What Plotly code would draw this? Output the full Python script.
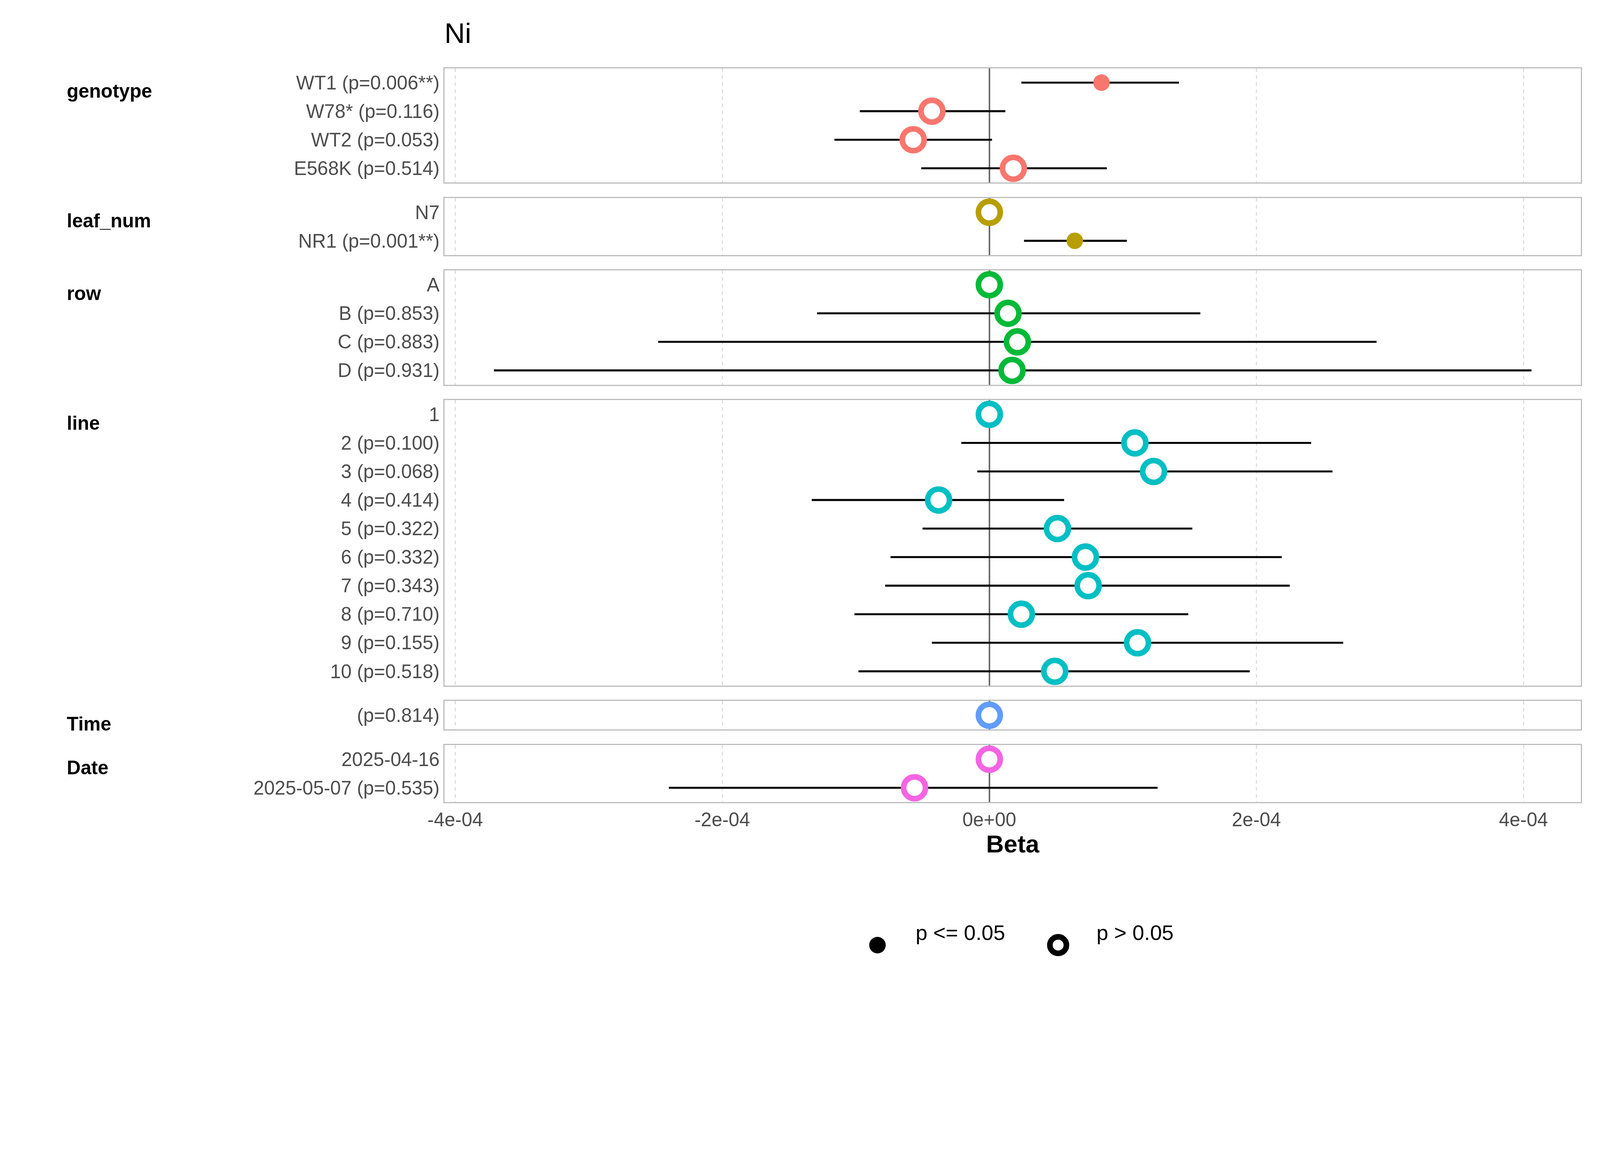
import plotly.graph_objects as go
from plotly.subplots import make_subplots

# estimates in units of 1e-4
groups = ["genotype", "leaf_num", "row", "line", "Time", "Date"]
colors = ["#F8766D", "#B79F00", "#00BA38", "#00BFC4", "#619CFF", "#F564E3"]

labels = [
    ["WT1 (p=0.006**)", "W78* (p=0.116)", "WT2 (p=0.053)", "E568K (p=0.514)"],
    ["N7", "NR1 (p=0.001**)"],
    ["A", "B (p=0.853)", "C (p=0.883)", "D (p=0.931)"],
    ["1", "2 (p=0.100)", "3 (p=0.068)", "4 (p=0.414)", "5 (p=0.322)", "6 (p=0.332)",
     "7 (p=0.343)", "8 (p=0.710)", "9 (p=0.155)", "10 (p=0.518)"],
    ["(p=0.814)"],
    ["2025-04-16", "2025-05-07 (p=0.535)"],
]
beta = [
    [0.84, -0.43, -0.57, 0.18],
    [0.0, 0.64],
    [0.0, 0.14, 0.21, 0.17],
    [0.0, 1.09, 1.23, -0.38, 0.51, 0.72, 0.74, 0.24, 1.11, 0.49],
    [0.0],
    [0.0, -0.56],
]
lower = [
    [0.24, -0.97, -1.16, -0.51],
    [0.0, 0.26],
    [0.0, -1.29, -2.48, -3.71],
    [0.0, -0.21, -0.09, -1.33, -0.50, -0.74, -0.78, -1.01, -0.43, -0.98],
    [0.0],
    [0.0, -2.40],
]
upper = [
    [1.42, 0.12, 0.02, 0.88],
    [0.0, 1.03],
    [0.0, 1.58, 2.90, 4.06],
    [0.0, 2.41, 2.57, 0.56, 1.52, 2.19, 2.25, 1.49, 2.65, 1.95],
    [0.0],
    [0.0, 1.26],
]
significant = [
    [True, False, False, False],
    [False, True],
    [False, False, False, False],
    [False] * 10,
    [False],
    [False, False],
]

S = 1 / 1.18  # page renders enlarged, so shrink everything
scale = 1e-4
sizes = [len(l) for l in labels]
fig = make_subplots(rows=6, cols=1, shared_xaxes=True, row_heights=sizes,
                    vertical_spacing=0.021)

xr = [-4.08e-4, 4.43e-4]
k = 0
for i, g in enumerate(groups):
    r = i + 1
    n = sizes[i]
    for j in range(n):
        if k % 2 == 1:
            fig.add_hrect(y0=j - 0.5, y1=j + 0.5, row=r, col=1, fillcolor="#EFEFEF",
                          line_width=0, layer="below")
        k += 1
    b = [v * scale for v in beta[i]]
    plus = [(u - v) * scale for u, v in zip(upper[i], beta[i])]
    minus = [(v - lo) * scale for v, lo in zip(beta[i], lower[i])]
    fig.add_trace(go.Scatter(
        x=b, y=list(range(n)), mode="markers", showlegend=False,
        error_x=dict(type="data", array=plus, arrayminus=minus, color="black",
                     thickness=6 * S, width=0),
        marker=dict(
            size=[50 * S if s else 66 * S for s in significant[i]],
            color=[colors[i] if s else "white" for s in significant[i]],
            line=dict(color=colors[i], width=[0 if s else 17 * S for s in significant[i]]),
            opacity=1,
        ),
    ), row=r, col=1)
    fig.update_yaxes(row=r, col=1, range=[n - 0.5, -0.5], tickvals=list(range(n)),
                     ticktext=labels[i], showgrid=False, zeroline=False,
                     showline=True, mirror=True, linecolor="#BDBDBD", linewidth=3 * S,
                     tickfont=dict(size=58 * S, color="#4D4D4D"), ticks="", ticklen=0)
    fig.update_xaxes(row=r, col=1, range=xr, showline=True, mirror=True,
                     linecolor="#BDBDBD", linewidth=3 * S, showgrid=True,
                     gridcolor="#DDDDDD", griddash="dash", gridwidth=3 * S,
                     zeroline=True, zerolinecolor="#6B6B6B", zerolinewidth=5 * S,
                     tickvals=[-4e-4, -2e-4, 0, 2e-4, 4e-4],
                     ticktext=["-4e-04", "-2e-04", "0e+00", "2e-04", "4e-04"],
                     tickfont=dict(size=58 * S, color="#4D4D4D"),
                     showticklabels=(r == 6))
    yname = "y" if r == 1 else "y%d" % r
    fig.add_annotation(x=-0.333, xref="paper", xanchor="left", y=0.3, yref=yname,
                       text="<b>%s</b>" % g, showarrow=False,
                       font=dict(size=58 * S, color="black"))

fig.update_xaxes(row=6, col=1, title=dict(text="<b>Beta</b>",
                                          font=dict(size=74 * S, color="black"),
                                          standoff=15 * S))

# legend drawn by hand so the keys can be full size
ly = -0.195
fig.add_shape(type="circle", xref="paper", yref="paper", xsizemode="pixel", ysizemode="pixel",
              xanchor=0.381, yanchor=ly, x0=-25 * S, x1=25 * S, y0=-25 * S, y1=25 * S,
              fillcolor="black", line_width=0)
fig.add_shape(type="circle", xref="paper", yref="paper", xsizemode="pixel", ysizemode="pixel",
              xanchor=0.540, yanchor=ly, x0=-25 * S, x1=25 * S, y0=-25 * S, y1=25 * S,
              fillcolor="white", line=dict(color="black", width=17 * S))
fig.add_annotation(x=0.414, xref="paper", y=ly, yref="paper", xanchor="left",
                   text="p <= 0.05", showarrow=False, font=dict(size=64 * S, color="black"))
fig.add_annotation(x=0.573, xref="paper", y=ly, yref="paper", xanchor="left",
                   text="p > 0.05", showarrow=False, font=dict(size=64 * S, color="black"))

fig.update_layout(
    width=round(4800 * S), height=round(3000 * S),
    margin=dict(l=1333 * S, r=34 * S, t=197 * S, b=586 * S),
    plot_bgcolor="white", paper_bgcolor="white", showlegend=False,
    font=dict(family="Liberation Sans, Arial, sans-serif"),
    title=dict(text="Ni", x=1333 / 4800, xanchor="left", y=0.97, yanchor="middle",
               font=dict(size=86 * S, color="black")),
)

fig.write_html("out.html")
